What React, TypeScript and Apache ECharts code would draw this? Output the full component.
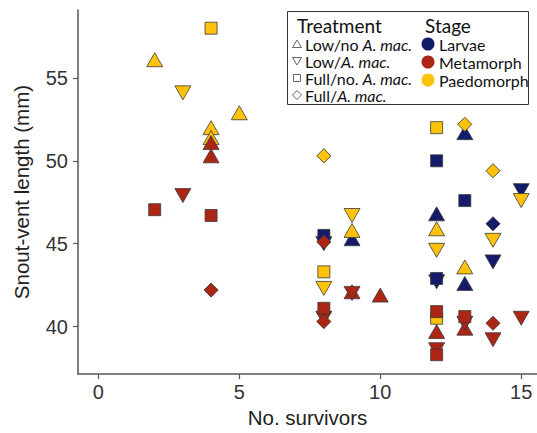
import React, { useEffect, useRef } from "react";
import * as echarts from "echarts";

// [survivors, SVL (mm), treatment]
const larvae: [number, number, string][] = [
  [8, 45.5, "Full/no"], [8, 45.0, "Low/A"], [9, 45.3, "Low/no"],
  [12, 50.0, "Full/no"], [12, 46.8, "Low/no"], [12, 42.9, "Full/no"], [12, 42.7, "Low/A"],
  [13, 51.7, "Low/no"], [13, 47.6, "Full/no"], [13, 42.6, "Low/no"],
  [14, 46.2, "Full/A"], [14, 43.9, "Low/A"],
  [15, 48.2, "Low/A"],
];
const paedomorph: [number, number, string][] = [
  [2, 56.1, "Low/no"], [3, 54.1, "Low/A"],
  [4, 58.0, "Full/no"], [4, 52.0, "Low/no"], [4, 51.4, "Low/no"],
  [5, 52.9, "Low/no"],
  [8, 50.3, "Full/A"], [8, 43.3, "Full/no"], [8, 42.3, "Low/A"],
  [9, 46.7, "Low/A"], [9, 45.8, "Low/no"],
  [12, 52.0, "Full/no"], [12, 45.9, "Low/no"], [12, 44.6, "Low/A"], [12, 40.5, "Full/no"],
  [13, 52.2, "Full/A"], [13, 43.6, "Low/no"],
  [14, 49.4, "Full/A"], [14, 45.2, "Low/A"],
  [15, 47.6, "Low/A"],
];
const metamorph: [number, number, string][] = [
  [2, 47.05, "Full/no"], [3, 47.9, "Low/A"],
  [4, 51.1, "Low/no"], [4, 50.3, "Low/no"], [4, 46.7, "Full/no"], [4, 42.2, "Full/A"],
  [8, 45.1, "Full/A"], [8, 41.1, "Full/no"], [8, 40.5, "Low/A"], [8, 40.3, "Full/A"],
  [9, 42.1, "Low/no"], [9, 42.0, "Low/A"],
  [10, 41.9, "Low/no"],
  [12, 40.9, "Full/no"], [12, 39.7, "Low/no"], [12, 38.6, "Low/A"], [12, 38.3, "Full/no"],
  [13, 40.6, "Full/no"], [13, 40.2, "Low/A"], [13, 39.9, "Low/no"],
  [14, 40.2, "Full/A"], [14, 39.2, "Low/A"],
  [15, 40.5, "Low/A"],
];

const stages = ["Larvae", "Metamorph", "Paedomorph"];
const stageColors = ["#141b6b", "#ad2514", "#ffc20a"];
const treatments = ["Low/no", "Low/A", "Full/no", "Full/A"];
const treatmentLabels = ["Low/no ", "Low/", "Full/no. ", "Full/"];
const italicPart = "A. mac.";
const xTicks = [0, 5, 10, 15];
const yTicks = [40, 45, 50, 55];

const symbolFor: Record<string, { symbol: string; size: number | number[]; rotate: number }> = {
  "Low/no": { symbol: "triangle", size: [16, 14], rotate: 0 },
  "Low/A": { symbol: "triangle", size: [16, 14], rotate: 180 },
  "Full/no": { symbol: "rect", size: 12, rotate: 0 },
  "Full/A": { symbol: "rect", size: 10, rotate: 45 },
};

export default function App() {
  const ref = useRef<HTMLDivElement>(null);
  useEffect(() => {
    if (!ref.current) return;
    const chart = echarts.init(ref.current, null, { renderer: "svg" });
    const stageData = [larvae, paedomorph, metamorph];
    const stageIdx = [0, 2, 1];
    const series: any[] = [];
    stageData.forEach((arr, k) => {
      const si = stageIdx[k];
      treatments.forEach((t) => {
        const pts = arr.filter((d) => d[2] === t).map((d) => [d[0], d[1]]);
        if (!pts.length) return;
        const s = symbolFor[t];
        series.push({
          type: "scatter",
          name: stages[si] + " " + t,
          data: pts,
          symbol: s.symbol,
          symbolSize: s.size,
          symbolRotate: s.rotate,
          itemStyle: { color: stageColors[si], borderColor: "#3a3a3a", borderWidth: 0.8, opacity: 1 },
        });
      });
    });

    const font = "'Liberation Sans', Arial, sans-serif";
    const ctx = document.createElement("canvas").getContext("2d")!;
    const measure = (txt: string, f: string) => { ctx.font = f; return ctx.measureText(txt).width; };
    const itemSize = 16;
    const gx = 297;
    const tY = [44, 61, 78, 95];
    const g: any[] = [
      { type: "rect", shape: { x: 287.5, y: 11.5, width: 241, height: 93 }, style: { fill: "#fff", stroke: "#333", lineWidth: 1 }, z: 10 },
      { type: "text", x: 297, y: 25, style: { text: "Treatment", fontSize: 19, fontFamily: "Lato", fill: "#111", verticalAlign: "middle" }, z: 11 },
      { type: "text", x: 425, y: 25, style: { text: "Stage", fontSize: 19, fontFamily: "Lato", fill: "#111", verticalAlign: "middle" }, z: 11 },
      { type: "polygon", shape: { points: [[gx - 4.5, tY[0] + 3.5], [gx + 4.5, tY[0] + 3.5], [gx, tY[0] - 4]] }, style: { fill: "#fff", stroke: "#666", lineWidth: 1 }, z: 11 },
      { type: "polygon", shape: { points: [[gx - 4.5, tY[1] - 3.5], [gx + 4.5, tY[1] - 3.5], [gx, tY[1] + 4]] }, style: { fill: "#fff", stroke: "#666", lineWidth: 1 }, z: 11 },
      { type: "rect", shape: { x: gx - 3.5, y: tY[2] - 3.5, width: 7, height: 7 }, style: { fill: "#fff", stroke: "#666", lineWidth: 1 }, z: 11 },
      { type: "polygon", shape: { points: [[gx, tY[3] - 4.5], [gx + 4.5, tY[3]], [gx, tY[3] + 4.5], [gx - 4.5, tY[3]]] }, style: { fill: "#fff", stroke: "#666", lineWidth: 1 }, z: 11 },
    ];
    treatments.forEach((t, i) => {
      const w = measure(treatmentLabels[i], `${itemSize}px Lato`);
      g.push({
        type: "text", x: 305, y: tY[i],
        style: { text: treatmentLabels[i], fontSize: itemSize, fontFamily: "Lato", fill: "#111", verticalAlign: "middle" },
        z: 11,
      });
      g.push({
        type: "text", x: 305 + w, y: tY[i],
        style: { text: italicPart, fontSize: itemSize, fontFamily: "Lato", fontStyle: "italic", fill: "#111", verticalAlign: "middle" },
        z: 11,
      });
    });
    const sY = [44, 62, 80];
    stages.forEach((s, i) => {
      g.push({ type: "circle", shape: { cx: 428, cy: sY[i], r: 6.5 }, style: { fill: stageColors[i] }, z: 11 });
      g.push({ type: "text", x: 439, y: sY[i], style: { text: s, fontSize: 16, fontFamily: "Lato", fill: "#111", verticalAlign: "middle" }, z: 11 });
    });

    chart.setOption({
      animation: false,
      grid: { left: 78, top: 10, right: 0, bottom: 55, containLabel: false },
      xAxis: {
        type: "value", min: -0.72, max: 15.56,
        name: "No. survivors", nameLocation: "middle", nameGap: 31,
        nameTextStyle: { fontFamily: font, fontSize: 20.5, color: "#222" },
        axisLine: { show: true, onZero: false, lineStyle: { color: "#555", width: 1.5 } },
        axisTick: { show: true, length: 5, customValues: xTicks, lineStyle: { color: "#555", width: 1.2 } },
        axisLabel: { customValues: xTicks, fontFamily: font, fontSize: 20, color: "#333", margin: 8 },
        splitLine: { show: false },
      },
      yAxis: {
        type: "value", min: 37.13, max: 59.1,
        name: "Snout-vent length (mm)", nameLocation: "middle", nameGap: 46,
        nameTextStyle: { fontFamily: font, fontSize: 20.5, color: "#222" },
        axisLine: { show: true, onZero: false, lineStyle: { color: "#555", width: 1.5 } },
        axisTick: { show: true, length: 5, customValues: yTicks, lineStyle: { color: "#555", width: 1.2 } },
        axisLabel: { customValues: yTicks, fontFamily: font, fontSize: 20, color: "#333", margin: 10 },
        splitLine: { show: false },
      },
      series,
      graphic: g,
    });
    return () => chart.dispose();
  }, []);
  return <div ref={ref} style={{ width: 537, height: 433, position: "absolute", left: 0, top: 0 }} />;
}
